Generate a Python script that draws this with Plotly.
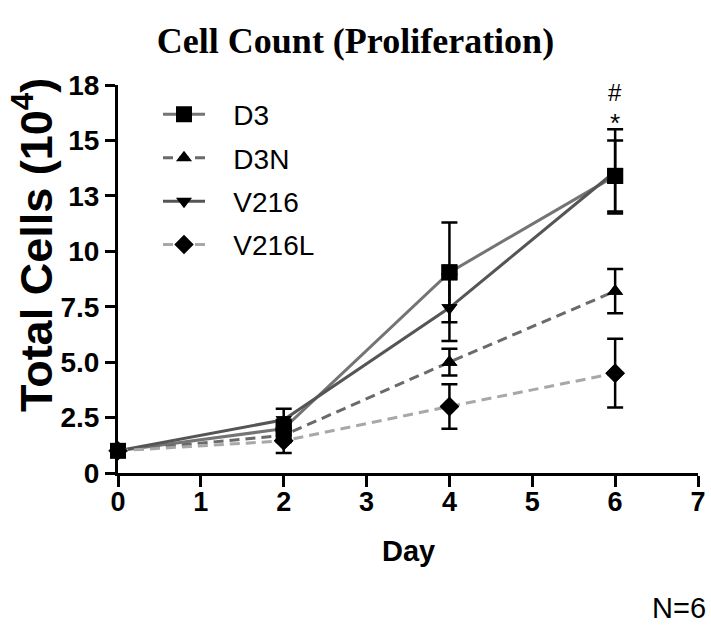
import plotly.graph_objects as go

days = [0, 2, 4, 6]
series_names = ["D3", "D3N", "V216", "V216L"]
d3 = [1.0, 2.0, 9.05, 13.4]
d3_sd = [0, 0.4, 2.25, 1.6]
d3n = [1.0, 1.7, 5.0, 8.2]
d3n_sd = [0, 0.3, 0.6, 1.0]
v216 = [1.0, 2.4, 7.45, 13.6]
v216_sd = [0, 0.5, 1.5, 1.9]
v216l = [1.0, 1.45, 3.0, 4.5]
v216l_sd = [0, 0.55, 1.0, 1.55]

y_tickvals = [0, 2.5, 5, 7.5, 10, 12.5, 15, 17.5]
y_ticktext = ["0", "2.5", "5.0", "7.5", "10", "13", "15", "18"]
x_tickvals = [0, 1, 2, 3, 4, 5, 6, 7]

values = [d3, d3n, v216, v216l]
sds = [d3_sd, d3n_sd, v216_sd, v216l_sd]
symbols = ["square", "triangle-up", "triangle-down", "diamond"]
sizes = [16, 14, 14, 15]
colors = ["#747474", "#6a6a6a", "#555555", "#a8a8a8"]
dashes = ["solid", "10px,6px", "solid", "10px,6px"]

PAD = "\u00a0\u00a0\u00a0"

fig = go.Figure()
for i, name in enumerate(series_names):
    fig.add_trace(go.Scatter(
        x=days, y=values[i], name=PAD + name, mode="lines+markers",
        line=dict(color=colors[i], width=3, dash=dashes[i]),
        marker=dict(symbol=symbols[i], size=sizes[i], color="black"),
        legendgroup=name, cliponaxis=False,
    ))
# error bars (days after 0), drawn above the lines
for i, name in enumerate(series_names):
    fig.add_trace(go.Scatter(
        x=days[1:], y=values[i][1:], mode="markers", showlegend=False,
        marker=dict(symbol=symbols[i], size=sizes[i], color="black"),
        error_y=dict(type="data", array=sds[i][1:], color="black",
                     thickness=2.5, width=8),
        cliponaxis=False, hoverinfo="skip",
    ))

W, H = 711, 632
L, R, T, B = 118, 13, 85, 159
PW, PH = W - L - R, H - T - B

fig.update_layout(
    width=W, height=H,
    margin=dict(l=L, r=R, t=T, b=B, autoexpand=False),
    plot_bgcolor="white", paper_bgcolor="white",
    title=dict(text="<b>Cell Count (Proliferation)</b>", x=0.5, xanchor="center",
               y=1 - 40 / H, yanchor="middle", xref="container", yref="container",
               font=dict(family="Liberation Serif, Times New Roman", size=36, color="black")),
    xaxis=dict(range=[0, 7], tickvals=x_tickvals, showgrid=False, zeroline=False,
               showline=True, linecolor="black", linewidth=3, automargin=False,
               ticks="outside", ticklen=11, tickwidth=3, tickcolor="black",
               tickfont=dict(family="Liberation Sans, Arial", size=27, color="black", weight="bold"),
               ticklabelstandoff=-8),
    yaxis=dict(range=[0, 17.5], tickvals=y_tickvals, ticktext=y_ticktext,
               showgrid=False, zeroline=False, automargin=False,
               showline=True, linecolor="black", linewidth=3,
               ticks="outside", ticklen=10, tickwidth=3, tickcolor="black",
               tickfont=dict(family="Liberation Sans, Arial", size=28, color="black", weight="bold")),
    legend=dict(x=(158 - L) / PW, y=0.988, xanchor="left", yanchor="top",
                font=dict(family="Liberation Sans, Arial", size=28, color="black"),
                itemwidth=42, tracegroupgap=4, bgcolor="rgba(0,0,0,0)"),
    showlegend=True,
)

fig.add_annotation(text="<b>Total Cells (10<sup>4</sup>)</b>", textangle=-90,
                   xref="paper", yref="paper", x=(33 - L) / PW, y=(473 - 245) / PH,
                   xanchor="center", yanchor="middle", showarrow=False,
                   font=dict(family="Liberation Sans, Arial", size=45, color="black"))
fig.add_annotation(text="<b>Day</b>", xref="paper", yref="paper", x=0.5,
                   y=(473 - 551) / PH, xanchor="center", yanchor="middle",
                   showarrow=False,
                   font=dict(family="Liberation Sans, Arial", size=29, color="black"))
fig.add_annotation(text="#", xref="x", yref="y", x=6, y=17.15, showarrow=False,
                   xanchor="center", yanchor="middle",
                   font=dict(family="Liberation Sans, Arial", size=24, color="black"))
fig.add_annotation(text="*", xref="x", yref="y", x=6, y=15.8, showarrow=False,
                   xanchor="center", yanchor="middle",
                   font=dict(family="Liberation Sans, Arial", size=26, color="black"))
fig.add_annotation(text="N=6", xref="paper", yref="paper", x=(708 - L) / PW,
                   y=(473 - 608) / PH, xanchor="right", yanchor="middle",
                   showarrow=False,
                   font=dict(family="Liberation Sans, Arial", size=29, color="black"))

fig.write_html("out.html", config={"displayModeBar": False},
               post_script="document.body.style.margin='0px';")
